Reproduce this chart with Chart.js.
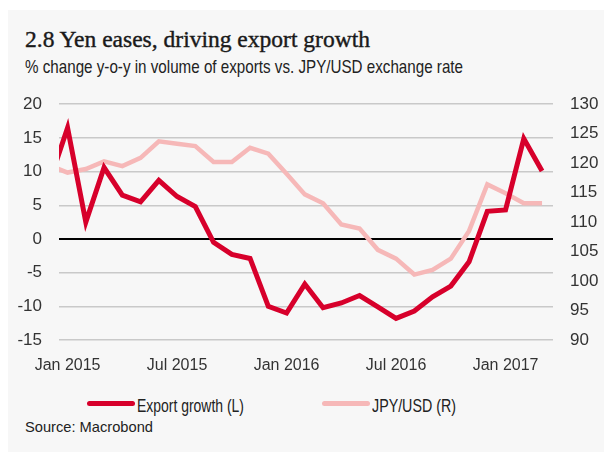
<!DOCTYPE html>
<html>
<head>
<meta charset="utf-8">
<script src="https://cdn.jsdelivr.net/npm/chart.js@4"></script>
<style>
  html, body { margin: 0; padding: 0; background: #fff; }
  body { width: 604px; height: 452px; position: relative; overflow: hidden; }
  .panel { position: absolute; left: 8px; top: 10px; width: 596px; height: 442px; background: #f7f7f7; }
  .txt { position: absolute; white-space: nowrap; line-height: 1; transform-origin: 0 0; }
  .title { left: 25px; top: 27.4px; font: 23px 'Liberation Serif', serif; color: #1a1a1a; -webkit-text-stroke: 0.4px #1a1a1a; }
  .subtitle { left: 25px; top: 55.6px; font: 19px 'Liberation Sans', Arial, sans-serif; color: #222; }
  #chart { position: absolute; left: 8px; top: 77px; }
  .legend .txt { top: 395.5px; font: 18px 'Liberation Sans', Arial, sans-serif; color: #222; }
  .legend .bar { position: absolute; top: 401px; width: 48px; height: 5px; border-radius: 3px; }
  .source { left: 25px; top: 417.8px; font: 15px 'Liberation Sans', Arial, sans-serif; color: #222; }
</style>
</head>
<body>
<div class="panel"></div>
<div class="txt title" data-w="345">2.8 Yen eases, driving export growth</div>
<div class="txt subtitle" data-w="438">% change y-o-y in volume of exports vs. JPY/USD exchange rate</div>
<canvas id="chart" width="596" height="299"></canvas>
<div class="legend" id="legend"></div>
<div class="txt source" data-w="128">Source: Macrobond</div>
<script>
  // months Dec 2014 .. Mar 2017 (x index -1 .. 26, Jan 2015 = 0)
  const months = [
    'Dec 2014',
    'Jan 2015', 'Feb 2015', 'Mar 2015', 'Apr 2015', 'May 2015', 'Jun 2015',
    'Jul 2015', 'Aug 2015', 'Sep 2015', 'Oct 2015', 'Nov 2015', 'Dec 2015',
    'Jan 2016', 'Feb 2016', 'Mar 2016', 'Apr 2016', 'May 2016', 'Jun 2016',
    'Jul 2016', 'Aug 2016', 'Sep 2016', 'Oct 2016', 'Nov 2016', 'Dec 2016',
    'Jan 2017', 'Feb 2017', 'Mar 2017'
  ];
  const exportGrowth = [
    8.4,
    16.5, 2.5, 10.6, 6.5, 5.5, 8.7,
    6.3, 4.8, -0.5, -2.3, -2.9, -10.0,
    -11.0, -6.7, -10.2, -9.5, -8.4, -10.1,
    -11.8, -10.7, -8.6, -7.0, -3.4, 4.1,
    4.3, 14.9, 10.1
  ];
  const jpyUsd = [
    119.6,
    118.4, 119.0, 120.3, 119.5, 120.9, 123.7,
    123.3, 122.9, 120.2, 120.2, 122.6, 121.6,
    118.2, 114.7, 113.2, 109.6, 108.9, 105.3,
    103.8, 101.1, 101.9, 103.8, 108.5, 116.4,
    114.9, 113.2, 113.2
  ];
  const seriesNames = ['Export growth (L)', 'JPY/USD (R)'];
  const xTickLabels = ['Jan 2015', 'Jul 2015', 'Jan 2016', 'Jul 2016', 'Jan 2017'];
  const leftTicks = [20, 15, 10, 5, 0, -5, -10, -15];
  const rightTicks = [130, 125, 120, 115, 110, 105, 100, 95, 90];

  const RED = '#d7002b';
  const PINK = '#f6b8b8';
  const FONT = "'Liberation Sans', Arial, sans-serif";

  const xTickPos = xTickLabels.map(l => months.indexOf(l) - 1);
  const toPoints = vals => vals.map((v, i) => ({ x: i - 1, y: v }));

  const chart = new Chart(document.getElementById('chart'), {
    type: 'line',
    data: {
      datasets: [
        {
          label: seriesNames[0],
          data: toPoints(exportGrowth),
          borderColor: RED,
          backgroundColor: RED,
          borderWidth: 5,
          yAxisID: 'y'
        },
        {
          label: seriesNames[1],
          data: toPoints(jpyUsd),
          borderColor: PINK,
          backgroundColor: PINK,
          borderWidth: 4.5,
          yAxisID: 'y2'
        }
      ]
    },
    options: {
      responsive: false,
      animation: false,
      events: [],
      elements: { point: { radius: 0 }, line: { tension: 0 } },
      layout: { padding: 0 },
      plugins: {
        legend: { display: false },
        tooltip: { enabled: false }
      },
      scales: {
        x: {
          type: 'linear',
          min: -0.47,
          max: 26.6,
          grid: { display: false, drawTicks: false },
          border: { display: false },
          afterFit: scale => { scale.height = 36; },
          afterBuildTicks: scale => {
            scale.ticks = xTickPos.map(v => ({ value: v }));
          },
          ticks: {
            padding: 16,
            maxRotation: 0,
            autoSkip: false,
            color: '#333',
            font: { family: FONT, size: 16 },
            callback: value => xTickLabels[xTickPos.indexOf(value)]
          }
        },
        y: {
          position: 'left',
          min: -15,
          max: 20,
          afterFit: scale => { scale.width = 51; },
          afterBuildTicks: scale => {
            scale.ticks = leftTicks.map(v => ({ value: v }));
          },
          border: { display: false },
          grid: {
            drawTicks: false,
            color: ctx => ctx.tick && ctx.tick.value === 0 ? '#000' : '#c9c9c9',
            lineWidth: ctx => ctx.tick && ctx.tick.value === 0 ? 2 : 1.5
          },
          ticks: {
            padding: 17,
            color: '#333',
            font: { family: FONT, size: 17 }
          }
        },
        y2: {
          position: 'right',
          min: 90,
          max: 130,
          afterFit: scale => { scale.width = 51; },
          afterBuildTicks: scale => {
            scale.ticks = rightTicks.map(v => ({ value: v }));
          },
          border: { display: false },
          grid: { display: false, drawTicks: false },
          ticks: {
            padding: 17,
            color: '#333',
            font: { family: FONT, size: 17 }
          }
        }
      }
    }
  });

  // html legend from the datasets
  const legendEl = document.getElementById('legend');
  const legendBarLeft = [87, 322];
  const legendTextW = [107, 84];
  chart.data.datasets.forEach((ds, i) => {
    const bar = document.createElement('div');
    bar.className = 'bar';
    bar.style.left = legendBarLeft[i] + 'px';
    bar.style.background = ds.borderColor;
    legendEl.appendChild(bar);
    const t = document.createElement('div');
    t.className = 'txt';
    t.style.left = (legendBarLeft[i] + 50) + 'px';
    t.dataset.w = legendTextW[i];
    t.textContent = ds.label;
    legendEl.appendChild(t);
  });

  // squeeze the narrow-font texts to the reference widths
  document.querySelectorAll('.txt[data-w]').forEach(el => {
    const w = el.getBoundingClientRect().width;
    el.style.transform = 'scaleX(' + (Number(el.dataset.w) / w) + ')';
  });
</script>
</body>
</html>
